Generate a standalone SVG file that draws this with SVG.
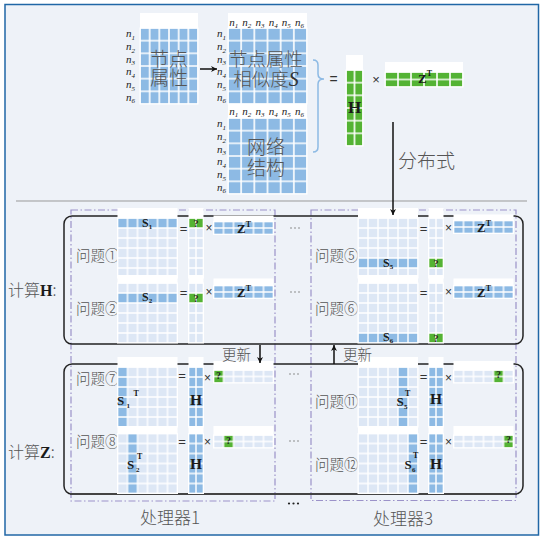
<svg xmlns="http://www.w3.org/2000/svg" width="545" height="540" viewBox="0 0 545 540">
<style>
.cn{font-family:"Noto Sans CJK SC","Noto Sans",sans-serif;fill:#555;font-weight:300}
.mb{font-family:"Liberation Serif",serif;font-weight:bold;fill:#1a1a1a}
.n{font-family:"Liberation Serif",serif;font-style:italic;font-size:11px;fill:#222}
.op{font-family:"Liberation Sans",sans-serif;fill:#333;text-anchor:middle}
.q{font-family:"Liberation Serif",serif;font-weight:bold;font-size:10px;fill:#222;text-anchor:middle}
.wh{fill:#fff}
.md{fill:#8dbae4}
.lt{fill:#dde7f5}
.gr{fill:#54b334}
.frame{fill:none;stroke:#9b92c9;stroke-width:1.2;stroke-dasharray:7 2.5 1.5 2.5}
.box{fill:none;stroke:#222;stroke-width:1.5}
.con{stroke:#111;stroke-width:1.5;fill:none}
.dot{fill:#666}
</style>
<defs>
<pattern id="pa" width="9.667" height="12.667" patternUnits="userSpaceOnUse"><path d="M0 0H9.667M0 12.667H9.667M0 0V12.667M9.667 0V12.667" stroke="#fff" stroke-width="1.6" fill="none"/></pattern>
<pattern id="ps" width="13.167" height="12.667" patternUnits="userSpaceOnUse"><path d="M0 0H13.167M0 12.667H13.167M0 0V12.667M13.167 0V12.667" stroke="#fff" stroke-width="1.6" fill="none"/></pattern>
<pattern id="ph" width="8.5" height="12.667" patternUnits="userSpaceOnUse"><path d="M0 0H8.5M0 12.667H8.5M0 0V12.667M8.5 0V12.667" stroke="#fff" stroke-width="1.6" fill="none"/></pattern>
<pattern id="pz" width="13" height="7.5" patternUnits="userSpaceOnUse"><path d="M0 0H13M0 7.5H13M0 0V7.5M13 0V7.5" stroke="#fff" stroke-width="1.6" fill="none"/></pattern>
<pattern id="p10" width="10" height="10" patternUnits="userSpaceOnUse"><path d="M0 0H10M0 10H10M0 0V10M10 0V10" stroke="#fff" stroke-width="1.4" fill="none"/></pattern>
<pattern id="p75" width="7.5" height="10" patternUnits="userSpaceOnUse"><path d="M0 0H7.5M0 10H7.5M0 0V10M7.5 0V10" stroke="#fff" stroke-width="1.4" fill="none"/></pattern>
<pattern id="pzs" width="10" height="6.5" patternUnits="userSpaceOnUse"><path d="M0 0H10M0 6.5H10M0 0V6.5M10 0V6.5" stroke="#fff" stroke-width="1.4" fill="none"/></pattern>
<marker id="ah" viewBox="0 0 10 10" refX="10" refY="5" markerWidth="7" markerHeight="6" orient="auto" markerUnits="userSpaceOnUse"><path d="M0,0 L10,5 L0,10 L3,5 z" fill="#111"/></marker>
</defs>

<rect x="0" y="0" width="545" height="540" fill="#fff"/>
<rect x="5" y="4.5" width="533.5" height="530.5" fill="#eef2f8" stroke="#2067a6" stroke-width="1.5"/>
<line x1="16" y1="201" x2="527" y2="201" stroke="#999" stroke-width="1"/>

<!-- top: node attributes -->
<g id="attr">
<rect class="wh" x="140" y="13" width="58" height="15"/>
<g transform="translate(140,28)"><rect class="md" width="58" height="76"/><rect width="58" height="76" fill="url(#pa)" stroke="#fff"/></g>
<text class="cn" x="169" y="66" font-size="19" text-anchor="middle">节点</text>
<text class="cn" x="169" y="85" font-size="19" text-anchor="middle">属性</text>
<text class="n" x="126" y="37.3">n<tspan font-size="7" dy="2.5">1</tspan></text>
<text class="n" x="126" y="50">n<tspan font-size="7" dy="2.5">2</tspan></text>
<text class="n" x="126" y="62.7">n<tspan font-size="7" dy="2.5">3</tspan></text>
<text class="n" x="126" y="75.3">n<tspan font-size="7" dy="2.5">4</tspan></text>
<text class="n" x="126" y="88">n<tspan font-size="7" dy="2.5">5</tspan></text>
<text class="n" x="126" y="100.7">n<tspan font-size="7" dy="2.5">6</tspan></text>
</g>

<g id="sim">
<rect class="wh" x="228" y="13" width="79" height="15"/>
<g transform="translate(228,28)"><rect class="md" width="79" height="76"/><rect width="79" height="76" fill="url(#ps)" stroke="#fff"/></g>
<text class="cn" x="266" y="66" font-size="18.5" text-anchor="middle">节点属性</text>
<text class="cn" x="266" y="86" font-size="18.5" text-anchor="middle">相似度<tspan font-family="'Liberation Serif',serif" font-style="italic" font-size="20" fill="#333">S</tspan></text>
<text class="n" x="229.2" y="26">n<tspan font-size="7" dy="2">1</tspan></text>
<text class="n" x="242.3" y="26">n<tspan font-size="7" dy="2">2</tspan></text>
<text class="n" x="255.5" y="26">n<tspan font-size="7" dy="2">3</tspan></text>
<text class="n" x="268.7" y="26">n<tspan font-size="7" dy="2">4</tspan></text>
<text class="n" x="281.8" y="26">n<tspan font-size="7" dy="2">5</tspan></text>
<text class="n" x="295" y="26">n<tspan font-size="7" dy="2">6</tspan></text>
<text class="n" x="217" y="37.3">n<tspan font-size="7" dy="2.5">1</tspan></text>
<text class="n" x="217" y="50">n<tspan font-size="7" dy="2.5">2</tspan></text>
<text class="n" x="217" y="62.7">n<tspan font-size="7" dy="2.5">3</tspan></text>
<text class="n" x="217" y="75.3">n<tspan font-size="7" dy="2.5">4</tspan></text>
<text class="n" x="217" y="88">n<tspan font-size="7" dy="2.5">5</tspan></text>
<text class="n" x="217" y="100.7">n<tspan font-size="7" dy="2.5">6</tspan></text>
</g>

<g id="net">
<rect class="wh" x="228" y="104" width="79" height="14"/>
<g transform="translate(228,118)"><rect class="md" width="79" height="76"/><rect width="79" height="76" fill="url(#ps)" stroke="#fff"/></g>
<text class="cn" x="266" y="154" font-size="19" text-anchor="middle">网络</text>
<text class="cn" x="266" y="175" font-size="19" text-anchor="middle">结构</text>
<text class="n" x="229.2" y="115">n<tspan font-size="7" dy="2">1</tspan></text>
<text class="n" x="242.3" y="115">n<tspan font-size="7" dy="2">2</tspan></text>
<text class="n" x="255.5" y="115">n<tspan font-size="7" dy="2">3</tspan></text>
<text class="n" x="268.7" y="115">n<tspan font-size="7" dy="2">4</tspan></text>
<text class="n" x="281.8" y="115">n<tspan font-size="7" dy="2">5</tspan></text>
<text class="n" x="295" y="115">n<tspan font-size="7" dy="2">6</tspan></text>
<text class="n" x="217" y="127.3">n<tspan font-size="7" dy="2.5">1</tspan></text>
<text class="n" x="217" y="140">n<tspan font-size="7" dy="2.5">2</tspan></text>
<text class="n" x="217" y="152.7">n<tspan font-size="7" dy="2.5">3</tspan></text>
<text class="n" x="217" y="165.3">n<tspan font-size="7" dy="2.5">4</tspan></text>
<text class="n" x="217" y="178">n<tspan font-size="7" dy="2.5">5</tspan></text>
<text class="n" x="217" y="190.7">n<tspan font-size="7" dy="2.5">6</tspan></text>
</g>

<g id="brace">
<path d="M313,60 Q318,60 318,65 L318,74 Q318,79 324,79 Q318,79 318,84 L318,147 Q318,152 313,152" fill="none" stroke="#8dbae4" stroke-width="1.5"/>
</g>

<g id="Hbig">
<text class="op" x="333.5" y="84" font-size="14">=</text>
<rect class="wh" x="346" y="55" width="17" height="15"/>
<g transform="translate(346,70)"><rect class="gr" width="17" height="76"/><rect width="17" height="76" fill="url(#ph)" stroke="#fff"/></g>
<text class="mb" x="354.5" y="113" font-size="17" text-anchor="middle">H</text>
</g>

<g id="ZTbig">
<text class="op" x="376" y="84" font-size="13">×</text>
<rect class="wh" x="385" y="62" width="78" height="10"/>
<g transform="translate(385,72)"><rect class="gr" width="78" height="15"/><rect width="78" height="15" fill="url(#pz)" stroke="#fff"/></g>
<text class="mb" x="418" y="83" font-size="13">Z<tspan font-size="8" dy="-7">T</tspan></text>
</g>

<text class="cn" x="398" y="168" font-size="19">分布式</text>

<!-- frames -->
<g id="frames">
<rect class="frame" x="71" y="210" width="204" height="291"/>
<rect class="frame" x="311" y="210" width="205" height="290.5"/>
<rect class="box" x="64" y="216" width="459" height="128" rx="8"/>
<path d="M72,364 H515 A8,8 0 0 1 523,372 V486 A8,8 0 0 1 515,494 H72 A8,8 0 0 1 64,486 V372 A8,8 0 0 1 72,364 Z" fill="none" stroke="#222" stroke-width="1.5"/>
<line x1="70" y1="494" x2="517" y2="494" stroke="#444" stroke-width="2.2"/>
</g>

<text class="cn" x="8" y="296" font-size="16">计算<tspan class="mb" font-size="16">H</tspan>:</text>
<text class="cn" x="8" y="458" font-size="16">计算<tspan class="mb" font-size="16">Z</tspan>:</text>

<!-- processor 1, H problems -->
<g id="prob1">
<text class="cn" x="76" y="261" font-size="14.5">问题①</text>
<g transform="translate(117.5,218)"><rect class="wh" y="-10" width="60" height="10"/><rect class="lt" width="60" height="60"/><rect class="md" width="60" height="10"/><rect width="60" height="60" fill="url(#p10)" stroke="#fff"/></g>
<text class="mb" x="142" y="227" font-size="12">S<tspan font-size="7" dy="2">1</tspan></text>
<text class="op" x="183.5" y="232.5" font-size="13">=</text>
<g transform="translate(188.5,218)"><rect class="wh" y="-10" width="15" height="10"/><rect class="lt" width="15" height="60"/><rect class="gr" width="15" height="10"/><rect width="15" height="60" fill="url(#p75)" stroke="#fff"/></g>
<text class="q" x="196" y="226.5">?</text>
<text class="op" x="209" y="232" font-size="12">×</text>
<g transform="translate(213.5,221.5)"><rect class="wh" y="-6" width="60" height="6"/><rect class="md" width="60" height="13"/><rect width="60" height="13" fill="url(#pzs)" stroke="#fff"/></g>
<text class="mb" x="237" y="233" font-size="13">Z<tspan font-size="8" dy="-6">T</tspan></text>
</g>

<g id="prob2">
<text class="cn" x="76" y="314" font-size="14.5">问题②</text>
<g transform="translate(117.5,283)"><rect class="wh" y="-8" width="60" height="8"/><rect class="lt" width="60" height="60"/><rect class="md" y="10" width="60" height="10"/><rect width="60" height="60" fill="url(#p10)" stroke="#fff"/></g>
<text class="mb" x="142" y="301" font-size="12">S<tspan font-size="7" dy="2">2</tspan></text>
<text class="op" x="183.5" y="296.5" font-size="13">=</text>
<g transform="translate(188.5,283)"><rect class="wh" y="-8" width="15" height="8"/><rect class="lt" width="15" height="60"/><rect class="gr" y="10" width="15" height="10"/><rect width="15" height="60" fill="url(#p75)" stroke="#fff"/></g>
<text class="q" x="196" y="301.5">?</text>
<text class="op" x="209" y="296" font-size="12">×</text>
<g transform="translate(213.5,285.5)"><rect class="wh" y="-7" width="60" height="7"/><rect class="md" width="60" height="13"/><rect width="60" height="13" fill="url(#pzs)" stroke="#fff"/></g>
<text class="mb" x="237" y="297" font-size="13">Z<tspan font-size="8" dy="-6">T</tspan></text>
</g>

<!-- processor 3, H problems -->
<g id="prob5">
<text class="cn" x="315" y="261" font-size="14.5">问题⑤</text>
<g transform="translate(358,218)"><rect class="wh" y="-10" width="60" height="10"/><rect class="lt" width="60" height="60"/><rect class="md" y="40" width="60" height="10"/><rect width="60" height="60" fill="url(#p10)" stroke="#fff"/></g>
<text class="mb" x="383" y="266.5" font-size="12">S<tspan font-size="7" dy="2">5</tspan></text>
<text class="op" x="423.5" y="232.5" font-size="13">=</text>
<g transform="translate(428.5,218)"><rect class="wh" y="-10" width="15" height="10"/><rect class="lt" width="15" height="60"/><rect class="gr" y="40" width="15" height="10"/><rect width="15" height="60" fill="url(#p75)" stroke="#fff"/></g>
<text class="q" x="436" y="266.5">?</text>
<text class="op" x="448.5" y="232" font-size="12">×</text>
<g transform="translate(453.5,220.5)"><rect class="wh" y="-6" width="60" height="6"/><rect class="md" width="60" height="13"/><rect width="60" height="13" fill="url(#pzs)" stroke="#fff"/></g>
<text class="mb" x="477" y="232" font-size="13">Z<tspan font-size="8" dy="-6">T</tspan></text>
</g>

<g id="prob6">
<text class="cn" x="315" y="314" font-size="14.5">问题⑥</text>
<g transform="translate(358,283)"><rect class="wh" y="-8" width="60" height="8"/><rect class="lt" width="60" height="60"/><rect class="md" y="50" width="60" height="10"/><rect width="60" height="60" fill="url(#p10)" stroke="#fff"/></g>
<text class="mb" x="383" y="341" font-size="12">S<tspan font-size="7" dy="2">6</tspan></text>
<text class="op" x="423.5" y="296.5" font-size="13">=</text>
<g transform="translate(428.5,283)"><rect class="wh" y="-8" width="15" height="8"/><rect class="lt" width="15" height="60"/><rect class="gr" y="50" width="15" height="10"/><rect width="15" height="60" fill="url(#p75)" stroke="#fff"/></g>
<text class="q" x="436" y="341.5">?</text>
<text class="op" x="448.5" y="296" font-size="12">×</text>
<g transform="translate(453.5,285.5)"><rect class="wh" y="-7" width="60" height="7"/><rect class="md" width="60" height="13"/><rect width="60" height="13" fill="url(#pzs)" stroke="#fff"/></g>
<text class="mb" x="477" y="297" font-size="13">Z<tspan font-size="8" dy="-6">T</tspan></text>
</g>

<!-- processor 1, Z problems -->
<g id="prob7">
<text class="cn" x="76" y="384" font-size="14.5">问题⑦</text>
<g transform="translate(117.5,367)"><rect class="wh" y="-10" width="60" height="10"/><rect class="lt" width="60" height="60"/><rect class="md" width="10" height="60"/><rect width="60" height="60" fill="url(#p10)" stroke="#fff"/></g>
<text class="mb" x="117" y="405" font-size="13">S</text><text class="mb" x="126.5" y="408" font-size="7">1</text><text class="mb" x="133.5" y="395.5" font-size="8">T</text>
<text class="op" x="182" y="379.5" font-size="13">=</text>
<g transform="translate(188.5,367)"><rect class="wh" y="-10" width="15" height="10"/><rect class="md" width="15" height="60"/><rect width="15" height="60" fill="url(#p75)" stroke="#fff"/></g>
<text class="mb" x="196" y="404.5" font-size="15.5" text-anchor="middle">H</text>
<text class="op" x="207.5" y="382" font-size="12">×</text>
<g transform="translate(213.5,370)"><rect class="wh" y="-9" width="60" height="9"/><rect class="lt" width="60" height="13"/><rect class="gr" width="10" height="13"/><rect width="60" height="13" fill="url(#pzs)" stroke="#fff"/></g>
<text class="q" x="218.5" y="379">?</text>
</g>

<g id="prob8">
<text class="cn" x="76" y="447" font-size="14.5">问题⑧</text>
<g transform="translate(117.5,433.5)"><rect class="wh" y="-7.5" width="60" height="7.5"/><rect class="lt" width="60" height="60"/><rect class="md" x="10" width="10" height="60"/><rect width="60" height="60" fill="url(#p10)" stroke="#fff"/></g>
<text class="mb" x="127" y="469" font-size="13">S</text><text class="mb" x="136" y="472" font-size="7">2</text><text class="mb" x="137" y="459" font-size="8">T</text>
<text class="op" x="182" y="446" font-size="13">=</text>
<g transform="translate(188.5,433.5)"><rect class="wh" y="-7.5" width="15" height="7.5"/><rect class="md" width="15" height="60"/><rect width="15" height="60" fill="url(#p75)" stroke="#fff"/></g>
<text class="mb" x="196" y="469" font-size="15.5" text-anchor="middle">H</text>
<text class="op" x="207.5" y="446" font-size="12">×</text>
<g transform="translate(213.5,435)"><rect class="wh" y="-9" width="60" height="9"/><rect class="lt" width="60" height="13"/><rect class="gr" x="10" width="10" height="13"/><rect width="60" height="13" fill="url(#pzs)" stroke="#fff"/></g>
<text class="q" x="228.5" y="444">?</text>
</g>

<!-- processor 3, Z problems -->
<g id="prob11">
<text class="cn" x="315" y="407" font-size="14.5">问题⑪</text>
<g transform="translate(358,367)"><rect class="wh" y="-10" width="60" height="10"/><rect class="lt" width="60" height="60"/><rect class="md" x="40" width="10" height="60"/><rect width="60" height="60" fill="url(#p10)" stroke="#fff"/></g>
<text class="mb" x="396.5" y="406" font-size="13">S</text><text class="mb" x="404" y="409" font-size="7">5</text><text class="mb" x="405" y="396" font-size="8">T</text>
<text class="op" x="423.5" y="381" font-size="13">=</text>
<g transform="translate(428.5,367)"><rect class="wh" y="-10" width="15" height="10"/><rect class="md" width="15" height="60"/><rect width="15" height="60" fill="url(#p75)" stroke="#fff"/></g>
<text class="mb" x="436" y="404" font-size="15.5" text-anchor="middle">H</text>
<text class="op" x="448.5" y="382" font-size="12">×</text>
<g transform="translate(453.5,370)"><rect class="wh" y="-9" width="60" height="9"/><rect class="lt" width="60" height="13"/><rect class="gr" x="40" width="10" height="13"/><rect width="60" height="13" fill="url(#pzs)" stroke="#fff"/></g>
<text class="q" x="498.5" y="378">?</text>
</g>

<g id="prob12">
<text class="cn" x="315" y="470" font-size="14.5">问题⑫</text>
<g transform="translate(358,433.5)"><rect class="wh" y="-7.5" width="60" height="7.5"/><rect class="lt" width="60" height="60"/><rect class="md" x="50" width="10" height="60"/><rect width="60" height="60" fill="url(#p10)" stroke="#fff"/></g>
<text class="mb" x="404.5" y="468.5" font-size="13">S</text><text class="mb" x="412" y="472" font-size="7">6</text><text class="mb" x="413" y="458" font-size="8">T</text>
<text class="op" x="423.5" y="446" font-size="13">=</text>
<g transform="translate(428.5,433.5)"><rect class="wh" y="-7.5" width="15" height="7.5"/><rect class="md" width="15" height="60"/><rect width="15" height="60" fill="url(#p75)" stroke="#fff"/></g>
<text class="mb" x="436" y="468.5" font-size="15.5" text-anchor="middle">H</text>
<text class="op" x="448.5" y="446" font-size="12">×</text>
<g transform="translate(453.5,435)"><rect class="wh" y="-9" width="60" height="9"/><rect class="lt" width="60" height="13"/><rect class="gr" x="50" width="10" height="13"/><rect width="60" height="13" fill="url(#pzs)" stroke="#fff"/></g>
<text class="q" x="508.5" y="443">?</text>
</g>

<!-- ellipses -->
<g id="dots">
<circle class="dot" cx="291" cy="228" r="0.7"/><circle class="dot" cx="295" cy="228" r="0.7"/><circle class="dot" cx="299" cy="228" r="0.7"/>
<circle class="dot" cx="291" cy="292" r="0.7"/><circle class="dot" cx="295" cy="292" r="0.7"/><circle class="dot" cx="299" cy="292" r="0.7"/>
<circle class="dot" cx="290" cy="374" r="0.7"/><circle class="dot" cx="294" cy="374" r="0.7"/><circle class="dot" cx="298" cy="374" r="0.7"/>
<circle class="dot" cx="290" cy="441" r="0.7"/><circle class="dot" cx="294" cy="441" r="0.7"/><circle class="dot" cx="298" cy="441" r="0.7"/>
<circle cx="289" cy="503.5" r="1.1" fill="#222"/><circle cx="293.5" cy="503.5" r="1.1" fill="#222"/><circle cx="298" cy="503.5" r="1.1" fill="#222"/>
</g>

<!-- connectors -->
<g id="connectors">
<line class="con" x1="200" y1="69" x2="217" y2="69" marker-end="url(#ah)"/>
<line class="con" x1="393" y1="122" x2="393" y2="215" stroke-width="1.8" marker-end="url(#ah)"/>
<line class="con" x1="260" y1="345" x2="260" y2="363" marker-end="url(#ah)"/>
<line class="con" x1="334" y1="364" x2="334" y2="345" marker-end="url(#ah)"/>
</g>
<text class="cn" x="222" y="360" font-size="14.5">更新</text>
<text class="cn" x="343" y="360" font-size="14.5">更新</text>

<text class="cn" x="140" y="524" font-size="17">处理器1</text>
<text class="cn" x="373" y="525" font-size="17">处理器3</text>
</svg>
